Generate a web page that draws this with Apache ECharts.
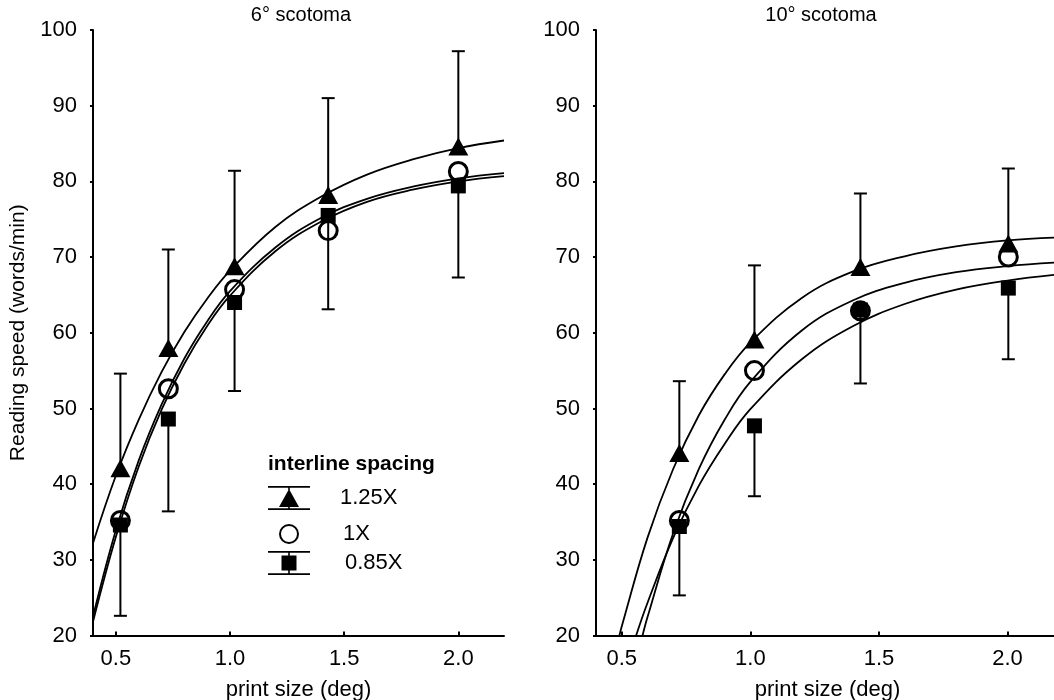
<!DOCTYPE html>
<html><head><meta charset="utf-8">
<script src="https://cdn.jsdelivr.net/npm/echarts@6/dist/echarts.min.js"></script>
<style>html,body{margin:0;padding:0;background:#fff}#c{width:1054px;height:700px}</style>
</head><body><div id="c"></div>
<script>
// ---------- data ----------
const panelTitles = ['6° scotoma', '10° scotoma'];
const seriesNames = ['1.25X', '1X', '0.85X'];
const xTickValues = [0.5, 1.0, 1.5, 2.0];

// 6° scotoma – measured points
const x6 = [0.52, 0.73, 1.02, 1.43, 2.0];
const tri6 = [42.1, 58.0, 68.8, 78.2, 84.6];
const cir6 = [35.2, 52.6, 65.7, 73.5, 81.3];
const sq6 = [34.6, 48.6, 64.0, 75.5, 79.4];
const triUpper6 = [54.6, 71.0, 81.4, 91.0, 97.2];
const sqLower6 = [22.6, 36.4, 52.3, 63.1, 67.3];

// 6° scotoma – fitted curves
const curveX6 = [0.4, 0.5, 0.6, 0.7, 0.8, 0.9, 1.0, 1.2, 1.4, 1.6, 1.8, 2.0, 2.2];
const curveTri6 = [32.2, 41.1, 48.5, 54.8, 60.1, 64.5, 68.2, 74.0, 78.0, 80.9, 82.9, 84.4, 85.4];
const curveCir6 = [22.5, 33.9, 43.1, 50.5, 56.6, 61.5, 65.5, 71.3, 75.2, 77.7, 79.3, 80.4, 81.1];
const curveSq6 = [21.8, 33.0, 42.3, 49.8, 55.9, 60.9, 64.9, 70.8, 74.7, 77.3, 78.9, 80.0, 80.7];

// 10° scotoma – measured points
const x10 = [0.724, 1.016, 1.428, 2.003];
const tri10 = [44.1, 59.1, 68.7, 71.8];
const cir10 = [35.2, 55.0, 62.9, 70.0];
const sq10 = [34.4, 47.7, 63.0, 65.9];
const triUpper10 = [53.6, 68.9, 78.4, 81.7];
const sqLower10 = [25.3, 38.4, 53.3, 56.5];

// 10° scotoma – fitted curves
const curveXTri10 = [0.491, 0.5, 0.6, 0.7, 0.8, 0.9, 1.0, 1.2, 1.4, 1.6, 1.8, 2.0, 2.2];
const curveTri10 = [20.0, 21.2, 32.9, 42.0, 49.1, 54.5, 58.7, 64.6, 68.1, 70.1, 71.4, 72.2, 72.6];
const curveXCir10 = [0.581, 0.6, 0.7, 0.8, 0.9, 1.0, 1.2, 1.4, 1.6, 1.8, 2.0, 2.2];
const curveCir10 = [20.0, 22.4, 33.5, 42.0, 48.5, 53.5, 60.3, 64.3, 66.6, 68.0, 68.8, 69.3];
const curveXSq10 = [0.556, 0.6, 0.7, 0.8, 0.9, 1.0, 1.2, 1.4, 1.6, 1.8, 2.0, 2.2];
const curveSq10 = [20.0, 24.3, 32.9, 39.8, 45.3, 49.9, 56.5, 60.9, 63.8, 65.7, 66.9, 67.7];

// ---------- helpers ----------
const zip = (xs, ys) => xs.map((x, i) => [x, ys[i]]);
const zip3 = (xs, ys, es) => xs.map((x, i) => [x, ys[i], es[i]]);
const FONT = 'Liberation Sans, Arial, sans-serif';

function errRender(params, api) {
  const x = api.value(0), y = api.value(1), e = api.value(2);
  const p1 = api.coord([x, y]);
  const p2 = api.coord([x, e]);
  const st = { stroke: '#000', lineWidth: 2 };
  return {
    type: 'group',
    children: [
      { type: 'line', shape: { x1: p1[0], y1: p1[1], x2: p2[0], y2: p2[1] }, style: st },
      { type: 'line', shape: { x1: p2[0] - 6.5, y1: p2[1], x2: p2[0] + 6.5, y2: p2[1] }, style: st }
    ]
  };
}

function curve(xs, ys, idx) {
  return {
    type: 'line', data: zip(xs, ys), xAxisIndex: idx, yAxisIndex: idx,
    smooth: 0.4, showSymbol: false, silent: true,
    lineStyle: { color: '#000', width: 1.8 }, z: 2
  };
}
function errs(xs, ys, es, idx) {
  return {
    type: 'custom', data: zip3(xs, ys, es), xAxisIndex: idx, yAxisIndex: idx,
    renderItem: errRender, silent: true, z: 3
  };
}
function markers(name, xs, ys, idx) {
  const base = { type: 'scatter', name: name, data: zip(xs, ys), xAxisIndex: idx, yAxisIndex: idx, z: 4, silent: true };
  if (name === '1.25X') return Object.assign(base, { symbol: 'triangle', symbolSize: [20, 18], itemStyle: { color: '#000', opacity: 1 } });
  if (name === '1X') return Object.assign(base, { symbol: 'circle', symbolSize: 18, itemStyle: { color: 'rgba(0,0,0,0)', borderColor: '#000', borderWidth: 3, opacity: 1 } });
  return Object.assign(base, { symbol: 'rect', symbolSize: 15, itemStyle: { color: '#000', opacity: 1 } });
}

function xAxis(idx) {
  return {
    type: 'value', gridIndex: idx, min: 0.4, max: 2.2,
    name: 'print size (deg)', nameLocation: 'middle', nameGap: 43,
    nameTextStyle: { fontSize: 22, color: '#000', fontFamily: FONT },
    axisLine: { show: true, onZero: false, lineStyle: { color: '#000', width: 2 } },
    axisTick: { show: true, inside: true, length: 4, customValues: xTickValues, lineStyle: { color: '#000', width: 2 } },
    axisLabel: { customValues: xTickValues, formatter: v => v.toFixed(1), fontSize: 22, color: '#000', margin: 12, fontFamily: FONT },
    splitLine: { show: false }
  };
}
function yAxis(idx, withName) {
  const a = {
    type: 'value', gridIndex: idx, min: 20, max: 100, interval: 10,
    axisLine: { show: true, onZero: false, lineStyle: { color: '#000', width: 2 } },
    axisTick: { show: true, inside: false, length: 3, lineStyle: { color: '#000', width: 2 } },
    axisLabel: { fontSize: 22, color: '#000', margin: 16, fontFamily: FONT },
    splitLine: { show: false }
  };
  if (withName) {
    a.name = 'Reading speed (words/min)';
    a.nameLocation = 'middle';
    a.nameGap = 64;
    a.nameTextStyle = { fontSize: 21, color: '#000', fontFamily: FONT };
  }
  return a;
}

const triIcon = 'path://M0,0H42V1.8H0Z M0,22.2H42V24H0Z M20.2,1.8H21.8V4H20.2Z M21,3L31,21L11,21Z M20.2,21H21.8V22.2H20.2Z';
const sqIcon = 'path://M0,0H42V1.8H0Z M0,22.2H42V24H0Z M20.2,1.8H21.8V4.5H20.2Z M13.5,4.5H28.5V19.5H13.5Z M20.2,19.5H21.8V22.2H20.2Z';

const chart = echarts.init(document.getElementById('c'), null, { renderer: 'canvas' });
chart.setOption({
  backgroundColor: '#fff',
  animation: false,
  title: [
    { text: panelTitles[0], left: 296, top: 0, textAlign: 'center', textStyle: { fontSize: 20, fontWeight: 'normal', color: '#000', fontFamily: FONT } },
    { text: panelTitles[1], left: 816, top: 0, textAlign: 'center', textStyle: { fontSize: 20, fontWeight: 'normal', color: '#000', fontFamily: FONT } },
    { text: 'interline spacing', left: 263, top: 449, textStyle: { fontSize: 21, fontWeight: 'bold', color: '#000', fontFamily: FONT } }
  ],
  legend: [
    { data: [seriesNames[0]], left: 263, top: 481, orient: 'vertical', selectedMode: false, itemWidth: 42, itemHeight: 24, icon: triIcon,
      textStyle: { fontSize: 22, color: '#000', fontFamily: FONT, padding: [0, 0, 0, 25] } },
    { data: [seriesNames[1]], left: 274, top: 518, orient: 'vertical', selectedMode: false, itemWidth: 18, itemHeight: 18, icon: 'circle',
      textStyle: { fontSize: 22, color: '#000', fontFamily: FONT, padding: [0, 0, 0, 40] } },
    { data: [seriesNames[2]], left: 263, top: 546, orient: 'vertical', selectedMode: false, itemWidth: 42, itemHeight: 24, icon: sqIcon,
      textStyle: { fontSize: 22, color: '#000', fontFamily: FONT, padding: [0, 0, 0, 30] } }
  ],
  grid: [
    { left: 93, right: 550, top: 30, bottom: 64.5, containLabel: false, outerBoundsMode: 'none' },
    { left: 596, right: -5, top: 30, bottom: 64.5, containLabel: false, outerBoundsMode: 'none' }
  ],
  xAxis: [xAxis(0), xAxis(1)],
  yAxis: [yAxis(0, true), yAxis(1, false)],
  series: [
    curve(curveX6, curveTri6, 0),
    curve(curveX6, curveCir6, 0),
    curve(curveX6, curveSq6, 0),
    curve(curveXTri10, curveTri10, 1),
    curve(curveXCir10, curveCir10, 1),
    curve(curveXSq10, curveSq10, 1),
    errs(x6, tri6, triUpper6, 0),
    errs(x6, sq6, sqLower6, 0),
    errs(x10, tri10, triUpper10, 1),
    errs(x10, sq10, sqLower10, 1),
    markers(seriesNames[2], x6, sq6, 0),
    markers(seriesNames[0], x6, tri6, 0),
    markers(seriesNames[1], x6, cir6, 0),
    markers(seriesNames[2], x10, sq10, 1),
    markers(seriesNames[0], x10, tri10, 1),
    markers(seriesNames[1], x10, cir10, 1)
  ]
});
</script>
</body></html>
